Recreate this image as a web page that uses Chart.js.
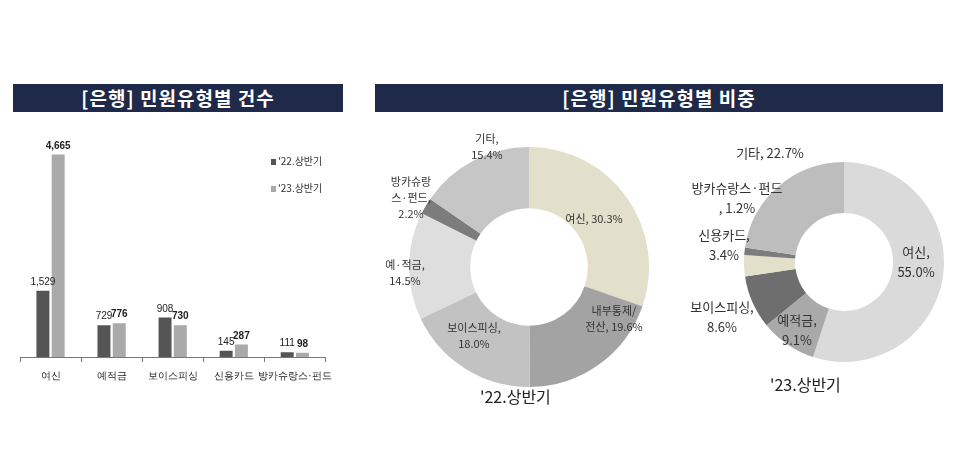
<!DOCTYPE html>
<html><head><meta charset="utf-8">
<script src="https://cdn.jsdelivr.net/npm/chart.js@4"></script>
<style>
body{margin:0;background:#fff;width:960px;height:471px;position:relative;overflow:hidden;font-family:"Noto Sans CJK KR","Noto Sans",sans-serif;}
.ban{position:absolute;top:84px;height:28px;background:#1f2a4a;color:#fff;font-weight:bold;font-size:19px;line-height:28px;text-align:center;letter-spacing:1px}
canvas{position:absolute}
.lbl{position:absolute;font-size:11px;color:#333;text-align:center;line-height:16px;white-space:nowrap;transform:translate(-50%,-50%)}
.big{font-size:13px;line-height:20px}
.cap{position:absolute;font-size:16px;color:#222}
.leg{position:absolute;font-size:10px;color:#333}
.leg span{display:inline-block;width:5px;height:6px;margin-right:2px}
</style></head><body>
<div class="ban" style="left:13px;width:330px">[은행] 민원유형별 건수</div>
<div class="ban" style="left:375px;width:568px">[은행] 민원유형별 비중</div>
<div style="position:absolute;left:15px;top:140px;width:325px;height:250px"><canvas id="bar"></canvas></div>
<div class="leg" style="left:271px;top:153px"><span style="background:#555"></span>'22.상반기</div>
<div class="leg" style="left:271px;top:180px"><span style="background:#aaa"></span>'23.상반기</div>
<div style="position:absolute;left:409px;top:147px;width:240px;height:240px"><canvas id="d1"></canvas></div>
<div style="position:absolute;left:744px;top:148px;width:200px;height:228px"><canvas id="d2"></canvas></div>
<div class="cap" style="left:480px;top:384px">'22.상반기</div>
<div class="cap" style="left:770px;top:372px">'23.상반기</div>
<div id="labels"></div>
<script>
const barCategories=["여신","예적금","보이스피싱","신용카드","방카슈랑스·펀드"];
const bar22=[1529,729,908,145,111];
const bar23=[4665,776,730,287,98];
const seriesNames=["'22.상반기","'23.상반기"];
const d1Labels=["여신","내부통제/\n전산","보이스피싱","예·적금","방카슈랑\n스·펀드","기타"];
const d1Values=[30.3,19.6,18.0,14.5,2.2,15.4];
const d2Labels=["여신","예적금","보이스피싱","신용카드","방카슈랑스·펀드\n","기타"];
const d2Values=[55.0,9.1,8.6,3.4,1.2,22.7];

const valPlugin={id:'vals',afterDatasetsDraw(c){const ctx=c.ctx;c.data.datasets.forEach((ds,i)=>{c.getDatasetMeta(i).data.forEach((b,j)=>{ctx.save();ctx.fillStyle='#222';ctx.font=(i?'bold ':'')+'10px "Liberation Sans Narrow","Liberation Sans",sans-serif';ctx.textAlign='center';ctx.fillText(ds.data[j].toLocaleString('en-US'),b.x,b.y-6);ctx.restore();});});}};
new Chart(document.getElementById('bar'),{type:'bar',data:{labels:barCategories,datasets:[
 {label:seriesNames[0],data:bar22,backgroundColor:'#555'},
 {label:seriesNames[1],data:bar23,backgroundColor:'#aaa'}]},
 options:{responsive:true,maintainAspectRatio:false,animation:false,layout:{padding:{left:5,right:5,top:0}},
 datasets:{bar:{categoryPercentage:0.5,barPercentage:0.85}},
 plugins:{legend:{display:false},tooltip:{enabled:false}},
 scales:{y:{display:false,min:0,max:5000},x:{grid:{offset:true,drawOnChartArea:false,color:'#777',tickLength:5},border:{color:'#777'},ticks:{color:'#222',font:{size:10},padding:8,maxRotation:0,minRotation:0,autoSkip:false}}}},plugins:[valPlugin]});

function donut(id,vals,colors){new Chart(document.getElementById(id),{type:'doughnut',data:{labels:id==='d1'?d1Labels:d2Labels,datasets:[{data:vals,backgroundColor:colors,borderWidth:0}]},
 options:{responsive:true,maintainAspectRatio:false,animation:false,cutout:'49%',plugins:{legend:{display:false},tooltip:{enabled:false}}}});}
donut('d1',d1Values,['#e2dfcb','#a3a3a3','#c2c2c2','#dedede','#7c7c7c','#c6c6c6']);
donut('d2',d2Values,['#dadada','#a9a9a9','#6e6e6e','#e2dfcb','#7c7c7c','#bdbdbd']);

const pos1=[[594,218],[614,318],[474,335],[405,272],[411,197],[487,146]];
const pos2=[[916,262],[797,330],[722,317],[724,245],[737,198],[770,153]];
const lab=document.getElementById('labels');
function addLabels(names,vals,pos,cls){names.forEach((n,i)=>{const d=document.createElement('div');d.className='lbl '+cls;let t=n.split('\n');let txt;
 if(cls==='big'&&i===5) txt=n+', '+vals[i].toFixed(1)+'%';
 else if(cls==='big'&&i===4) txt=t[0]+'<br>, '+vals[i].toFixed(1)+'%';
 else if(cls===''&&i===0) txt=n+', '+vals[i].toFixed(1)+'%';
 else if(t.length>1) txt=t[0]+'<br>'+t[1]+'<br>'+vals[i].toFixed(1)+'%';
 else txt=n+',<br>'+vals[i].toFixed(1)+'%';
 if(cls===''&&i===1) txt=t[0]+'<br>'+t[1]+', '+vals[i].toFixed(1)+'%';
 if(cls===''&&i===4) txt=t[0]+'<br>'+t[1]+',<br>'+vals[i].toFixed(1)+'%';
 d.innerHTML=txt;d.style.left=pos[i][0]+'px';d.style.top=pos[i][1]+'px';lab.appendChild(d);});}
addLabels(d1Labels,d1Values,pos1,'');
addLabels(d2Labels,d2Values,pos2,'big');
</script></body></html>
